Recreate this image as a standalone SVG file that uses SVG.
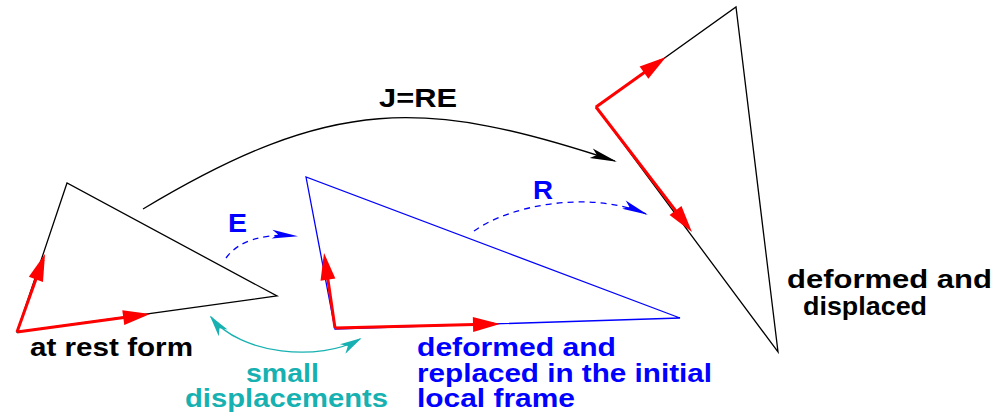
<svg xmlns="http://www.w3.org/2000/svg" width="1001" height="414" viewBox="0 0 1001 414">
<style>
text{font-family:"Liberation Sans",Arial,sans-serif;font-weight:bold;font-size:26px}
.tri{fill:none;stroke-width:1.3;stroke-linejoin:miter}
.k{stroke:#000}
.b{stroke:#0000ff}
.vec{stroke:#ff0000;stroke-width:3;fill:none;marker-end:url(#ra)}
.tk{fill:#000}.tb{fill:#0000ff}.tc{fill:#17b1b1}
</style>
<defs>
<marker id="ra" markerUnits="userSpaceOnUse" markerWidth="27" markerHeight="15" refX="21" refY="7.5" orient="auto" overflow="visible"><path d="M0,0 L27,7.5 L0,15 z" fill="#ff0000"/></marker>
<marker id="ka" markerUnits="userSpaceOnUse" markerWidth="27" markerHeight="10" refX="25" refY="5" orient="auto" overflow="visible"><path d="M0,0 L27,5 L0,10 L6,5 z" fill="#000"/></marker>
<marker id="ba" markerUnits="userSpaceOnUse" markerWidth="26" markerHeight="9" refX="24" refY="4.5" orient="auto" overflow="visible"><path d="M0,0 L26,4.5 L0,9 L6,4.5 z" fill="#0000ff"/></marker>
<marker id="ca" markerUnits="userSpaceOnUse" markerWidth="22" markerHeight="11" refX="20" refY="5.5" orient="auto-start-reverse" overflow="visible"><path d="M0,0 L22,5.5 L0,11 L6,5.5 z" fill="#17b1b1"/></marker>
</defs>
<rect width="1001" height="414" fill="#fff"/>
<g id="rest-form">
<polygon class="tri k" points="17,332 67,183 277,296"/>
<line class="vec" x1="17" y1="332" x2="43" y2="259.6"/>
<line class="vec" x1="17" y1="332" x2="144.1" y2="314.8"/>
<text class="tk" x="30" y="356" textLength="163" lengthAdjust="spacingAndGlyphs">at rest form</text>
</g>
<g id="local-frame">
<polygon class="tri b" points="306,177 335,329 680,318"/>
<line class="vec" x1="335" y1="328" x2="324.9" y2="258.9"/>
<line class="vec" x1="335" y1="328" x2="494" y2="324.1"/>
<text class="tb" x="417" y="356" textLength="199" lengthAdjust="spacingAndGlyphs">deformed and</text>
<text class="tb" x="417" y="382" textLength="295" lengthAdjust="spacingAndGlyphs">replaced in the initial</text>
<text class="tb" x="417" y="407" textLength="158" lengthAdjust="spacingAndGlyphs">local frame</text>
</g>
<g id="displaced">
<polygon class="tri k" points="596,107 736,7 778,352"/>
<line class="vec" x1="596" y1="107" x2="661.1" y2="60.5"/>
<line class="vec" x1="596" y1="107" x2="688.3" y2="227.2"/>
<text class="tk" x="787" y="288" textLength="205" lengthAdjust="spacingAndGlyphs">deformed and</text>
<text class="tk" x="803" y="315" textLength="124" lengthAdjust="spacingAndGlyphs">displaced</text>
</g>
<g id="connectors">
<path d="M143,209 C333,95 425,98.3 615,161" fill="none" stroke="#000" stroke-width="1.3" marker-end="url(#ka)"/>
<path d="M226,258 Q245,232 296,236" fill="none" stroke="#0000ff" stroke-width="1.3" stroke-dasharray="6,5" marker-end="url(#ba)"/>
<path d="M474,231 C510,205 590,190 646,214" fill="none" stroke="#0000ff" stroke-width="1.3" stroke-dasharray="6,5" marker-end="url(#ba)"/>
<path d="M211,317 C240,355 320,362 360,339" fill="none" stroke="#17b1b1" stroke-width="1.3" marker-start="url(#ca)" marker-end="url(#ca)"/>
</g>
<g id="labels">
<text class="tk" x="379" y="107" textLength="78" lengthAdjust="spacingAndGlyphs">J=RE</text>
<text class="tb" x="228" y="232" textLength="19" lengthAdjust="spacingAndGlyphs">E</text>
<text class="tb" x="533" y="199" textLength="20" lengthAdjust="spacingAndGlyphs">R</text>
<text class="tc" x="246" y="382" textLength="73" lengthAdjust="spacingAndGlyphs">small</text>
<text class="tc" x="185" y="407" textLength="203" lengthAdjust="spacingAndGlyphs">displacements</text>
</g>
</svg>
